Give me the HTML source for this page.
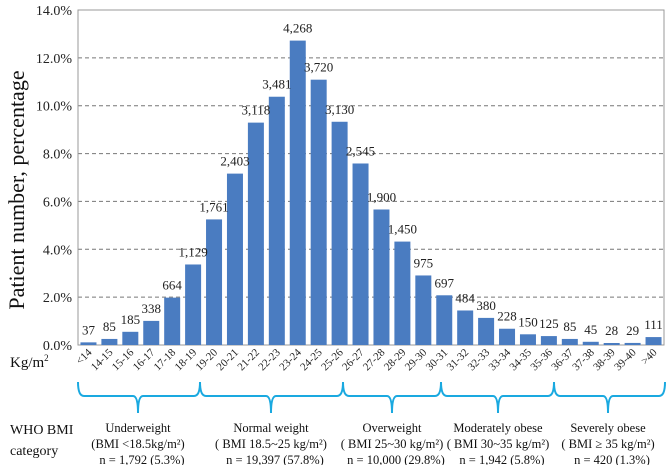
<!DOCTYPE html>
<html><head><meta charset="utf-8">
<style>
body{margin:0;background:#fff;}
svg{display:block;font-family:"Liberation Serif",serif;}
</style></head>
<body>
<svg id="chart" width="668" height="465" viewBox="0 0 668 465" xmlns="http://www.w3.org/2000/svg">
<g id="grid"></g>
<rect x="78" y="10" width="586" height="335" fill="none" stroke="#999" stroke-width="1"/>
<g id="bars"></g>
<g id="vals" font-size="13" fill="#222"></g>
<g id="yt" font-size="14" fill="#222"></g>
<g id="xt" font-size="11" fill="#222"></g>
<text x="24" y="190" font-size="22" text-anchor="middle" transform="rotate(-90 24 190)" fill="#111">Patient number, percentage</text>
<text x="10" y="367" font-size="15" fill="#111">Kg/m<tspan font-size="9" dy="-6">2</tspan></text>
<g id="braces" fill="none" stroke="#1aa9e0" stroke-width="2"></g>
<text x="10" y="434" font-size="14" fill="#111">WHO BMI</text>
<text x="10" y="455" font-size="14" fill="#111">category</text>
<g id="groups" font-size="12.5" fill="#111" text-anchor="middle"></g>
</svg>
<script>
const categories=["<14","14-15","15-16","16-17","17-18","18-19","19-20","20-21","21-22","22-23","23-24","24-25","25-26","26-27","27-28","28-29","29-30","30-31","31-32","32-33","33-34","34-35","35-36","36-37","37-38","38-39","39-40",">40"];
const counts=[37,85,185,338,664,1129,1761,2403,3118,3481,4268,3720,3130,2545,1900,1450,975,697,484,380,228,150,125,85,45,28,29,111];
const yTicks=[0,2,4,6,8,10,12,14];
const groupNames=["Underweight","Normal weight","Overweight","Moderately obese","Severely obese"];
const groupRanges=["(BMI <18.5kg/m²)","( BMI 18.5~25 kg/m²)","( BMI 25~30 kg/m²)","( BMI 30~35 kg/m²)","( BMI ≥ 35 kg/m²)"];
const groupN=["n = 1,792 (5.3%)","n = 19,397 (57.8%)","n = 10,000 (29.8%)","n = 1,942 (5.8%)","n = 420 (1.3%)"];
const groupEdges=[78,200,343,441,554,665];
const groupTips=[138,271,392,498,608];

const NS="http://www.w3.org/2000/svg";
const total=counts.reduce((a,b)=>a+b,0);
const n=counts.length;
const x0=78,x1=664,yB=345,yT=10;
const band=(x1-x0)/n;
const xc=i=>x0+band*(i+0.5);
const y=p=>yB-(p/14)*(yB-yT);
function mk(tag,attrs,parent){const e=document.createElementNS(NS,tag);for(const k in attrs)e.setAttribute(k,attrs[k]);parent.appendChild(e);return e;}
const grid=document.getElementById('grid'),yt=document.getElementById('yt');
yTicks.forEach(t=>{
  if(t>0&&t<14){const l=mk('line',{x1:x0,x2:x1,y1:y(t),y2:y(t),stroke:'#777','stroke-dasharray':'4,3'},grid);
  
  }
  const tx=mk('text',{x:72,y:y(t)+5,'text-anchor':'end'},yt);tx.textContent=t.toFixed(1)+'%';
  
  
});
const bars=document.getElementById('bars'),vals=document.getElementById('vals'),xt=document.getElementById('xt');
counts.forEach((c,i)=>{
  const p=c/total*100,bw=16;
  const r=mk('rect',{x:xc(i)-bw/2,y:y(p),width:bw,height:yB-y(p),fill:'#4a7cc1'},bars);
  
  
  const v=mk('text',{x:xc(i),y:y(p)-8,'text-anchor':'middle'},vals);v.textContent=c.toLocaleString('en-US');
  
  
  const t=mk('text',{x:xc(i)+4,y:353,'text-anchor':'end',transform:`rotate(-45 ${xc(i)+4} 353)`},xt);t.textContent=categories[i];
  
  
});
const br=document.getElementById('braces'),gt=document.getElementById('groups');
groupNames.forEach((g,i)=>{
  const a=groupEdges[i],b=groupEdges[i+1],m=groupTips[i];
  const pth=mk('path',{d:`M${a},382 Q${a},396 ${a+6},396 L${m-5},396 Q${m},396 ${m},413 Q${m},396 ${m+5},396 L${b-6},396 Q${b},396 ${b},382`},br);
  
  
  [g,groupRanges[i],groupN[i]].forEach((s,j)=>{
    const t=mk('text',{x:m+(j==2?4:0),y:432+j*16},gt);t.textContent=s;
    
    
  });
});
</script>
</body></html>
